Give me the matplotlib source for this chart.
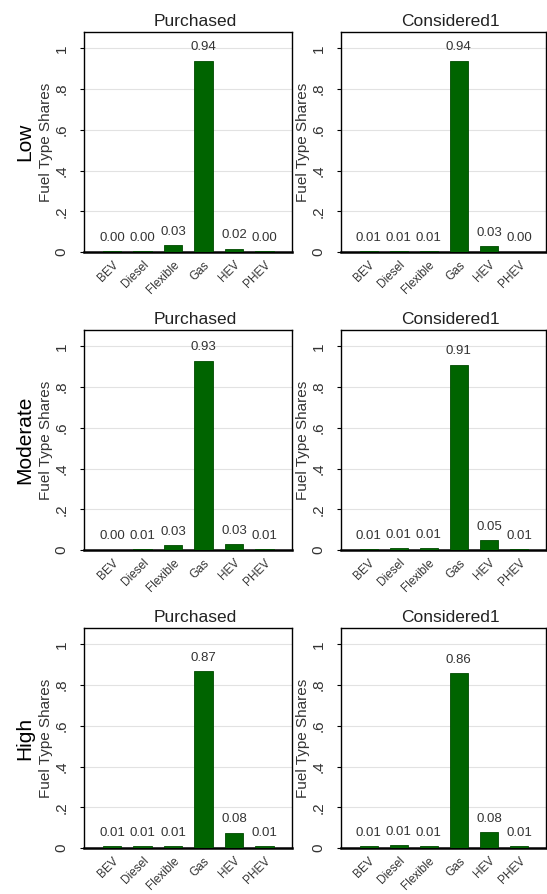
import matplotlib
matplotlib.use("Agg")
import matplotlib.pyplot as plt

plt.rcParams['font.family'] = ['Liberation Sans', 'DejaVu Sans']

fuels = ["BEV", "Diesel", "Flexible", "Gas", "HEV", "PHEV"]
levels = ["Low", "Moderate", "High"]
columns = ["Purchased", "Considered1"]

low_purchased = [0.003, 0.003, 0.034, 0.94, 0.017, 0.003]
low_considered = [0.006, 0.006, 0.006, 0.94, 0.03, 0.002]
mod_purchased = [0.002, 0.006, 0.026, 0.93, 0.03, 0.006]
mod_considered = [0.005, 0.01, 0.01, 0.91, 0.05, 0.005]
high_purchased = [0.008, 0.008, 0.008, 0.87, 0.076, 0.008]
high_considered = [0.008, 0.015, 0.008, 0.86, 0.08, 0.008]

shares = [[low_purchased, low_considered],
          [mod_purchased, mod_considered],
          [high_purchased, high_considered]]

yticks = [0, 0.2, 0.4, 0.6, 0.8, 1.0]
ytick_labels = ["0", ".2", ".4", ".6", ".8", "1"]

W, H = 547, 894
fig = plt.figure(figsize=(W / 100, H / 100), dpi=100)
fig.patch.set_facecolor("white")

row_tops = [32, 330, 628]
col_lefts = [84, 341]
col_widths = [208, 205]
ax_h = 220

for r in range(3):
    for c in range(2):
        left = col_lefts[c] / W
        bottom = 1 - (row_tops[r] + ax_h) / H
        ax = fig.add_axes([left, bottom, col_widths[c] / W, ax_h / H])
        vals = shares[r][c]
        xs = range(len(fuels))
        ax.bar(xs, vals, width=0.6, color="#006400", edgecolor="#004a00", linewidth=0.6, zorder=3)
        for x, v in zip(xs, vals):
            ax.annotate("%.2f" % v, (x, v), xytext=(0, 9.5), textcoords="offset points",
                        ha="center", va="center", fontsize=9.5, color="#333333")
        ax.set_xlim(-0.92, 5.9)
        ax.set_ylim(0, 1.08)
        ax.set_yticks(yticks)
        ax.set_yticklabels(ytick_labels, rotation=90, va="center", fontsize=11, color="#333333")
        ax.set_xticks(list(xs))
        ax.set_xticklabels(fuels, rotation=45, ha="right", rotation_mode="anchor",
                           fontsize=8.5, color="#333333")
        ax.tick_params(axis="x", length=0, pad=5)
        ax.tick_params(axis="y", length=3, width=0.8, pad=8)
        ax.grid(axis="y", color="#e2e2e2", linewidth=0.8, zorder=0)
        for s in ax.spines.values():
            s.set_color("black")
            s.set_linewidth(1.0)
        ax.spines["bottom"].set_linewidth(1.8)
        ax.set_ylabel("Fuel Type Shares", fontsize=11, color="#333333", labelpad=1)
        ax.set_title(columns[c], fontsize=12.5, color="#222222", pad=4, x=0.535)
    fig.text(25 / W, 1 - (row_tops[r] + ax_h / 2) / H, levels[r], rotation=90,
             ha="center", va="center", fontsize=15, color="black")

fig.savefig("out.png", dpi=100, facecolor="white")
